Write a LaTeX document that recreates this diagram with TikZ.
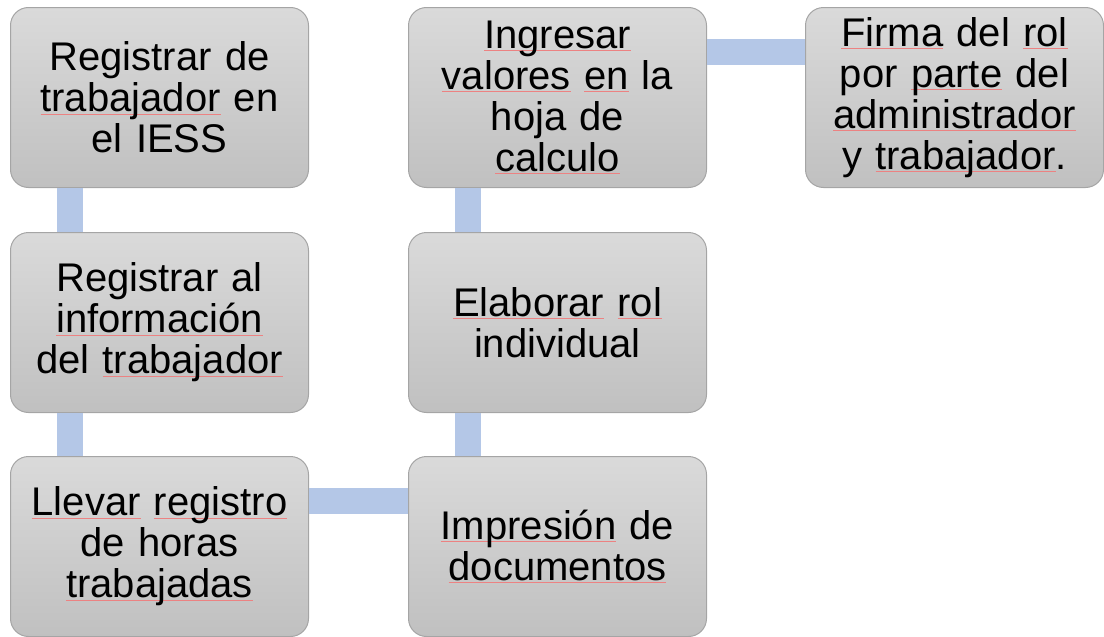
\documentclass[tikz,border=0pt]{standalone}
\usepackage{fontspec}
\setmainfont{Liberation Sans}
\newsavebox\squbox
\newcommand\squ[1]{\leavevmode\sbox\squbox{#1}\rlap{\textcolor{sqred}{\rule[-2.6pt]{\wd\squbox}{0.8pt}}}\usebox\squbox}
\definecolor{sqred}{RGB}{236,130,130}
\definecolor{boxtop}{RGB}{218,218,218}
\definecolor{boxbot}{RGB}{192,192,192}
\definecolor{boxline}{RGB}{165,165,165}
\definecolor{barblue}{RGB}{180,199,231}
\begin{document}
\begin{tikzpicture}[x=1pt,y=-1pt,
  stepbox/.style={draw=boxline, line width=1pt, rounded corners=18pt,
    top color=boxtop, bottom color=boxbot,
    minimum width=298pt, minimum height=180pt, inner sep=0pt,
    align=center, text width=290pt,
    font=\fontsize{40}{41}\selectfont, anchor=north west},
  bar/.style={draw=barblue, line width=26pt}]
\useasboundingbox (0,0) rectangle (1104,637);
\node[stepbox] (b1) at (10,7)   {Registrar de\\\squ{trabajador} en\\el IESS};
\node[stepbox] (b2) at (10,232) {Registrar al\\\squ{información}\\del \squ{trabajador}};
\node[stepbox] (b3) at (10,456) {\squ{Llevar} \squ{registro}\\de horas\\\squ{trabajadas}};
\node[stepbox] (b4) at (408,456) {\squ{Impresión} de\\\squ{documentos}};
\node[stepbox] (b5) at (408,232) {\squ{Elaborar} \squ{rol}\\individual};
\node[stepbox] (b6) at (408,7)  {\squ{Ingresar}\\\squ{valores} \squ{en} la\\hoja de\\\squ{calculo}};
\node[stepbox] (b7) at (805,7)  {\squ{Firma} del \squ{rol}\\por \squ{parte} del\\\squ{administrador}\\y \squ{trabajador}.};
\draw[bar] ([xshift=60pt]b1.south west) -- ([xshift=60pt]b2.north west);
\draw[bar] ([xshift=60pt]b2.south west) -- ([xshift=60pt]b3.north west);
\draw[bar] ([yshift=-45pt]b3.north east) -- ([yshift=-45pt]b4.north west);
\draw[bar] ([xshift=60pt]b4.north west) -- ([xshift=60pt]b5.south west);
\draw[bar] ([xshift=60pt]b5.north west) -- ([xshift=60pt]b6.south west);
\draw[bar] ([yshift=-45pt]b6.north east) -- ([yshift=-45pt]b7.north west);
\end{tikzpicture}
\end{document}
